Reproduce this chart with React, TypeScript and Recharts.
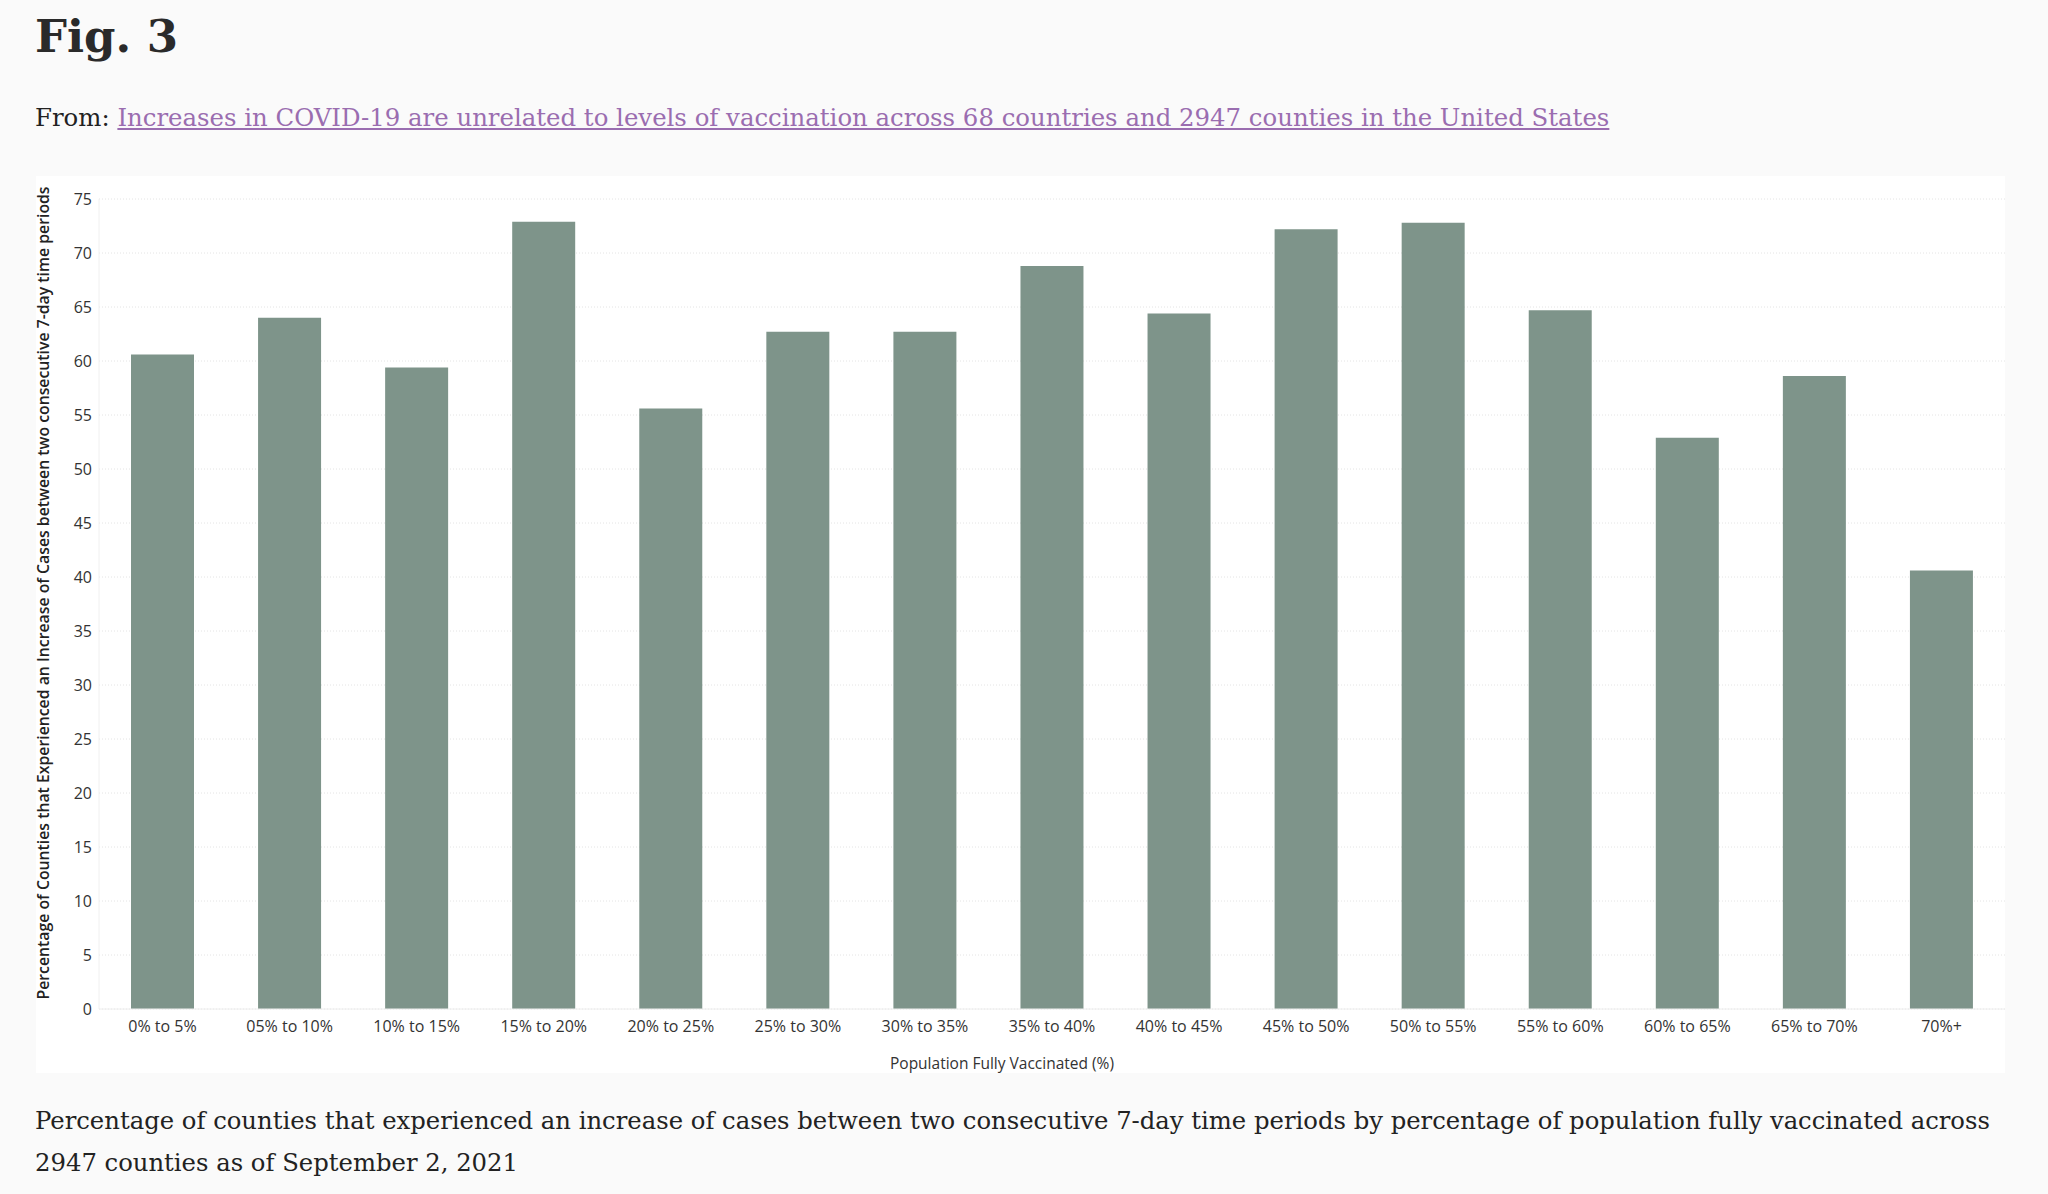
import React from 'react'
import { BarChart, Bar, XAxis, YAxis, CartesianGrid } from 'recharts'

const categories = [
  '0% to 5%', '05% to 10%', '10% to 15%', '15% to 20%', '20% to 25%',
  '25% to 30%', '30% to 35%', '35% to 40%', '40% to 45%', '45% to 50%',
  '50% to 55%', '55% to 60%', '60% to 65%', '65% to 70%', '70%+',
]
const pctIncrease = [60.6, 64.0, 59.4, 72.9, 55.6, 62.7, 62.7, 68.8, 64.4, 72.2, 72.8, 64.7, 52.9, 58.6, 40.6]
const yTicks = [0, 5, 10, 15, 20, 25, 30, 35, 40, 45, 50, 55, 60, 65, 70, 75]

const data = categories.map((c, i) => ({ bucket: c, value: pctIncrease[i] }))

const serif = '"DejaVu Serif", Georgia, serif'
const sans = '"Open Sans", "Noto Sans", sans-serif'

export default function App() {
  return (
    <div style={{ position: 'absolute', left: 0, top: 0, width: 2048, height: 1194, background: '#fafafa', color: '#222', fontFamily: serif }}>
      <div style={{ position: 'absolute', left: 35, top: 14, fontSize: 45, lineHeight: '46px', fontWeight: 700, color: '#2a2a2a' }}>
        Fig. 3
      </div>
      <div style={{ position: 'absolute', left: 35, top: 103, fontSize: 24.4, lineHeight: '30px', whiteSpace: 'nowrap' }}>
        From:{' '}
        <a href="#" style={{ color: '#9a6db0', textDecoration: 'underline' }}>
          Increases in COVID-19 are unrelated to levels of vaccination across 68 countries and 2947 counties in the United States
        </a>
      </div>

      {/* white chart panel */}
      <div style={{ position: 'absolute', left: 36, top: 176, width: 1969, height: 897, background: '#fff' }} />

      <div style={{ position: 'absolute', left: 24, top: 176 }}>
        <BarChart width={1981} height={904} data={data} margin={{ top: 23, right: 0, left: 12, bottom: 7 }}>
          <CartesianGrid vertical={false} stroke="#e4e4e4" strokeDasharray="1 2" />
          <XAxis
            dataKey="bucket"
            height={64}
            tickLine={false}
            tickSize={0}
            tickMargin={12}
            axisLine={{ stroke: '#eeeeee' }}
            interval={0}
            tick={{ fontSize: 16, fill: '#333', fontFamily: sans }}
            label={{ value: 'Population Fully Vaccinated (%)', position: 'insideBottom', offset: 4, dx: -50, style: { fontSize: 15.5, fill: '#333', fontFamily: sans } }}
          />
          <YAxis
            width={63}
            domain={[0, 75]}
            ticks={yTicks}
            interval={0}
            tickLine={false}
            tickSize={3}
            tickMargin={4}
            axisLine={{ stroke: '#f0f0f0' }}
            tick={{ fontSize: 16, fill: '#333', fontFamily: sans }}
            label={{
              value: 'Percentage of Counties that Experienced an Increase of Cases between two consecutive 7-day time periods',
              angle: -90,
              position: 'insideLeft',
              offset: 7,
              dy: -11,
              style: { textAnchor: 'middle', fontSize: 15.8, fill: '#222', fontFamily: sans, fontWeight: 600 },
            }}
          />
          <Bar dataKey="value" fill="#7e948a" barSize={63} isAnimationActive={false} />
        </BarChart>
      </div>

      <div style={{ position: 'absolute', left: 35, top: 1100, fontSize: 24.3, lineHeight: '42px', whiteSpace: 'nowrap' }}>
        Percentage of counties that experienced an increase of cases between two consecutive 7-day time periods by percentage of population fully vaccinated across
        <br />
        2947 counties as of September 2, 2021
      </div>
    </div>
  )
}
